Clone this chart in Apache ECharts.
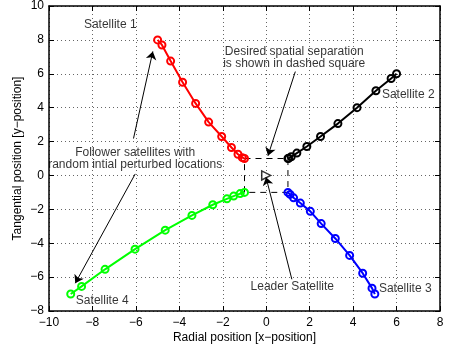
<!DOCTYPE html>
<html>
<head>
<meta charset="utf-8">
<script src="https://cdn.jsdelivr.net/npm/echarts@6/dist/echarts.min.js"></script>
<style>
  html, body { margin: 0; padding: 0; background: #fff; }
  #chart { width: 450px; height: 349px; }
</style>
</head>
<body>
<div id="chart"></div>
<script>
// trajectories of the four follower satellites
var sat1X = [-5, -4.8, -4.4, -3.85, -3.25, -2.65, -2.05, -1.6, -1.3, -1.1, -1];
var sat1Y = [8, 7.7, 6.75, 5.5, 4.25, 3.15, 2.3, 1.65, 1.25, 1.05, 1];
var sat2X = [6, 5.75, 5.05, 4.18, 3.3, 2.5, 1.87, 1.41, 1.15, 1.03, 1];
var sat2Y = [6, 5.72, 5.0, 4.0, 3.06, 2.3, 1.71, 1.32, 1.1, 1.01, 1];
var sat3X = [5, 4.87, 4.44, 3.84, 3.18, 2.53, 2.03, 1.57, 1.26, 1.1, 1];
var sat3Y = [-7, -6.65, -5.77, -4.72, -3.72, -2.84, -2.12, -1.63, -1.32, -1.12, -1];
var sat4X = [-9, -8.5, -7.42, -6.04, -4.65, -3.42, -2.46, -1.81, -1.5, -1.2, -1];
var sat4Y = [-7, -6.55, -5.54, -4.35, -3.23, -2.36, -1.73, -1.38, -1.22, -1.07, -1];

// desired separation square and leader
var squareX = [-1, 1, 1, -1, -1];
var squareY = [1, 1, -1, -1, 1];
var leader = [0, 0];

// axis ticks
var xTicks = [-10, -8, -6, -4, -2, 0, 2, 4, 6, 8];
var yTicks = [-8, -6, -4, -2, 0, 2, 4, 6, 8, 10];

// annotation texts and arrows (data coordinates)
var labelText = ['Satellite 1', 'Follower satellites with\nrandom intial perturbed locations',
  'Desired spatial separation\nis shown in dashed square', 'Satellite 2',
  'Leader Satellite', 'Satellite 3', 'Satellite 4'];
var labelX = [-7.18, -6.03, 1.29, 6.54, 1.2, 6.4, -7.55];
var labelY = [8.88, 0.97, 6.95, 4.78, -6.54, -6.71, -7.41];
var arrowFrom = [[-6.11, 2.18], [-6.03, 0.09], [1.34, 6.13], [1.18, -6.13]];
var arrowTo = [[-5.22, 7.32], [-8.79, -6.36], [0.08, 1.16], [-0.01, -0.1]];

function zip(xs, ys) {
  return xs.map(function (x, i) { return [x, ys[i]]; });
}
function minus(v) { return String(v).replace('-', '\u2212'); }

var font = 'Liberation Sans, Arial, Helvetica, sans-serif';

function satSeries(xs, ys, color) {
  return {
    type: 'line',
    data: zip(xs, ys),
    symbol: 'circle',
    symbolSize: 7,
    showSymbol: true,
    lineStyle: { color: color, width: 2 },
    itemStyle: { color: 'rgba(0,0,0,0)', borderColor: color, borderWidth: 2 },
    z: 3
  };
}

var chart = echarts.init(document.getElementById('chart'));

var baseAxis = {
  axisLine: { show: true, onZero: false, lineStyle: { color: '#000', width: 1.5 } },
  axisTick: { show: true, inside: true, length: 5, lineStyle: { color: '#000' } },
  splitLine: { show: false }
};

var option = {
  animation: false,
  grid: { left: 49, right: 10, top: 6, bottom: 36 },
  xAxis: [
    Object.assign({}, baseAxis, {
      type: 'value', min: -10, max: 8, interval: 2, position: 'bottom',
      name: 'Radial position [x\u2212position]', nameLocation: 'middle', nameGap: 21,
      nameMoveOverlap: false,
      nameTextStyle: { fontFamily: font, fontSize: 12, color: '#000' },
      axisLabel: { margin: 6, fontFamily: font, fontSize: 12, color: '#000', formatter: minus,
        customValues: xTicks },
      splitLine: { show: true, lineStyle: { color: '#666', type: [1, 3], width: 1 } }
    }),
    Object.assign({}, baseAxis, {
      type: 'value', min: -10, max: 8, interval: 2, position: 'top', axisLabel: { show: false }
    })
  ],
  yAxis: [
    Object.assign({}, baseAxis, {
      type: 'value', min: -8, max: 10, interval: 2, position: 'left',
      name: 'Tangential position [y\u2212position]', nameLocation: 'middle', nameGap: 25,
      nameMoveOverlap: false,
      nameTextStyle: { fontFamily: font, fontSize: 12, color: '#000' },
      axisLabel: { margin: 5, fontFamily: font, fontSize: 12, color: '#000', formatter: minus,
        customValues: yTicks },
      splitLine: { show: true, lineStyle: { color: '#666', type: [1, 3], width: 1 } }
    }),
    Object.assign({}, baseAxis, {
      type: 'value', min: -8, max: 10, interval: 2, position: 'right', axisLabel: { show: false }
    })
  ],
  series: [
    {
      type: 'line',
      data: zip(squareX, squareY),
      symbol: 'none',
      lineStyle: { color: '#000', width: 1, type: [6, 5] },
      z: 2
    },
    satSeries(sat1X, sat1Y, '#ff0000'),
    satSeries(sat2X, sat2Y, '#000000'),
    satSeries(sat3X, sat3Y, '#0000ff'),
    satSeries(sat4X, sat4Y, '#00ff00'),
    {
      type: 'scatter',
      data: [leader],
      symbol: 'triangle',
      symbolRotate: -90,
      symbolSize: 9,
      itemStyle: { color: '#fff', borderColor: '#000', borderWidth: 1.5 },
      z: 5
    },
    {
      type: 'lines',
      coordinateSystem: 'cartesian2d',
      polyline: false,
      symbol: ['none', 'arrow'],
      symbolSize: 8,
      lineStyle: { color: '#000', width: 1, opacity: 1, curveness: 0 },
      data: arrowFrom.map(function (f, i) { return { coords: [f, arrowTo[i]] }; }),
      z: 6
    },
    {
      type: 'scatter',
      symbolSize: 0,
      data: labelText.map(function (t, i) { return { name: t, value: [labelX[i], labelY[i]] }; }),
      label: {
        show: true, position: 'inside', formatter: '{b}', align: 'center',
        fontFamily: font, fontSize: 12, color: '#000', lineHeight: 12
      },
      z: 7
    }
  ]
};

chart.setOption(option);
</script>
</body>
</html>
